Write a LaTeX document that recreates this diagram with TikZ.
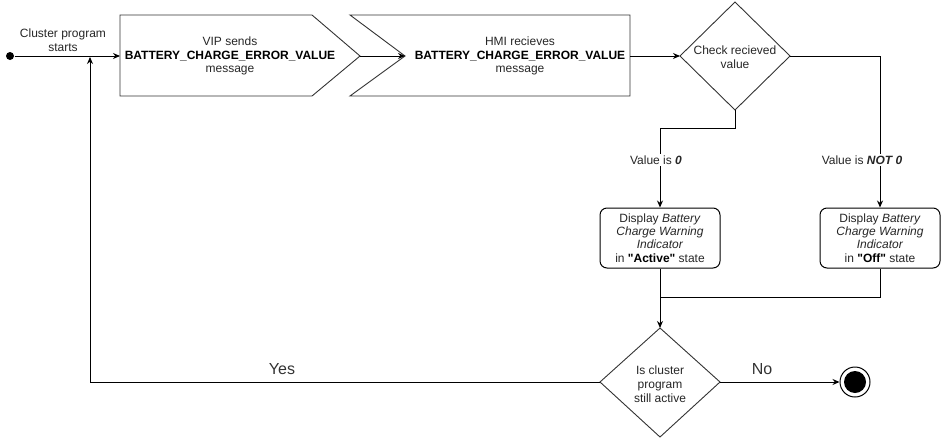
\documentclass[tikz,border=0pt]{standalone}
\usepackage{fontspec}
\setmainfont{Liberation Sans}[Ligatures=TeXOff]
\usetikzlibrary{arrows.meta}
\begin{document}
\begin{tikzpicture}[x=1pt,y=-1pt,
  line width=1pt,
  conn/.style={draw=black,-{Stealth[length=7pt,width=6pt]}},
  plain/.style={draw=black},
  shapeline/.style={draw=black!80,line width=0.9pt},
  txt/.style={align=center,inner sep=1pt,font=\fontsize{12}{13.6}\selectfont,text=black!85},
  bigtxt/.style={inner sep=1pt,font=\fontsize{16}{18}\selectfont,text=black!80},
  lbl/.style={txt,fill=white,inner sep=2pt},
  roundbox/.style={draw=black,rounded corners=7pt,minimum width=120pt,minimum height=60pt,align=center,inner sep=0pt,font=\fontsize{12}{13.4}\selectfont,text=black!85}
]
\useasboundingbox (0,0) rectangle (941,439);

% start
\node[circle,fill=black,inner sep=0pt,minimum size=8pt] (start) at (10,56) {};
\node[txt] (startlbl) at (63,40) {Cluster program\\starts};

% shape 1 (VIP sends)
\draw[shapeline] (120,15) -- (312,15) -- (360,56) -- (312,96) -- (120,96) -- cycle;
\coordinate (s1in) at (120,56);
\coordinate (s1tip) at (360,56);
\node[txt] (s1) at (230,56) {VIP sends\\{\fontsize{12}{13.6}\selectfont\bfseries\color{black} BATTERY\_CHARGE\_ERROR\_VALUE}\\message};

% shape 2 (HMI recieves)
\draw[shapeline] (350,15) -- (630,15) -- (630,96) -- (350,96) -- (405,56) -- cycle;
\coordinate (s2in) at (405,56);
\coordinate (s2out) at (630,56);
\node[txt] (s2) at (520,56) {HMI recieves\\{\fontsize{12}{13.6}\selectfont\bfseries\color{black} BATTERY\_CHARGE\_ERROR\_VALUE}\\message};

% diamond 1
\draw[shapeline] (680,56) -- (735,2) -- (790,56) -- (735,110) -- cycle;
\coordinate (d1l) at (680,56);
\coordinate (d1r) at (790,56);
\coordinate (d1b) at (735,110);
\node[txt] (d1) at (735,57) {Check recieved\\value};

% boxes
\node[roundbox] (b1) at (660,238) {Display \textit{Battery}\\\textit{Charge Warning}\\\textit{Indicator}\\in {\color{black}\bfseries"Active"} state};
\node[roundbox] (b2) at (880,238) {Display \textit{Battery}\\\textit{Charge Warning}\\\textit{Indicator}\\in {\color{black}\bfseries"Off"} state};

% diamond 2
\draw[shapeline] (600,382) -- (660,328) -- (720,382) -- (660,437) -- cycle;
\coordinate (d2l) at (600,382);
\coordinate (d2r) at (720,382);
\coordinate (d2t) at (660,328);
\node[txt,font=\fontsize{12}{14}\selectfont] (d2) at (660,384) {Is cluster\\program\\still active};

% end
\node[circle,draw=black,line width=1pt,inner sep=0pt,minimum size=30pt] (end) at (855,382) {};
\node[circle,fill=black,inner sep=0pt,minimum size=22pt] (endin) at (end) {};

% connectors
\draw[conn] (start) -- (s1in);
\draw[conn] (s1tip) -- (s2in);
\draw[conn] (s2out) -- (d1l);
\coordinate (k1) at (735,128);
\draw[conn] (d1b) -- (k1) -| (b1.north);
\draw[conn] (d1r) -| (b2.north);
\draw[conn] (b1.south) -- (d2t);
\coordinate (j) at (660,297);
\draw[plain] (b2.south) |- (j);
\draw[conn] (d2r) -- (end);
\coordinate (ret) at (90,57);
\draw[conn] (d2l) -| (ret);

% labels
\node[lbl] (l0) at (656,160) {Value is \textbf{\textit{0}}};
\node[lbl] (lnot) at (862,160) {Value is \textbf{\textit{NOT 0}}};
\node[bigtxt] (yes) at (282,369) {Yes};
\node[bigtxt] (no) at (762,369) {No};
\end{tikzpicture}
\end{document}
